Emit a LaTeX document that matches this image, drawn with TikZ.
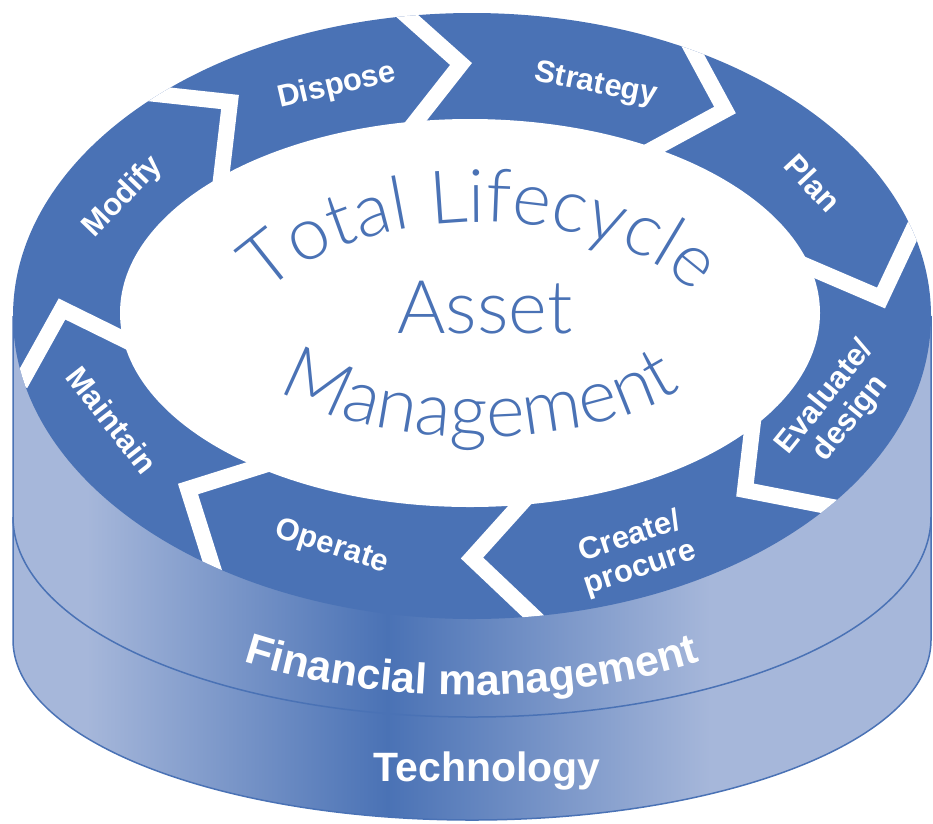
\documentclass[tikz,border=0pt]{standalone}
\usepackage{fontspec}
\usepackage{tikz}
\usetikzlibrary{decorations.text, positioning, calc}

\newfontfamily\thinfont{Lato Light}
\newfontfamily\labelfont{Liberation Sans}

\definecolor{ringblue}{RGB}{74,114,181}
\definecolor{sidelight}{RGB}{166,183,218}

% light - dark - light across the cylinder wall
\pgfdeclarehorizontalshading{sideshade}{100bp}{color(0bp)=(sidelight); color(29bp)=(sidelight); color(45.4bp)=(ringblue); color(63bp)=(sidelight); color(100bp)=(sidelight)}

\begin{document}
\begin{tikzpicture}[x=1pt, y=1pt,
    gap/.style={white, line width=16pt, shorten <=-14pt, shorten >=-14pt},
    stagelabel/.style={text=white, font=\labelfont\bfseries\fontsize{31}{33}\selectfont, align=center},
    bandlabel/.style={text=white, font=\labelfont\bfseries\fontsize{41}{41}\selectfont}]
    \useasboundingbox (0,-823) rectangle (933,0);

    % Define centers
    \coordinate (top) at (472,-316);
    \coordinate (hole) at (470,-313);

    % Cylinder wall
    \path[shading=sideshade] (13,-316) -- (13,-640) arc[start angle=180, end angle=360, x radius=459, y radius=180] -- (931,-316) -- cycle;
    \draw[ringblue, line width=1.5pt] (13,-316) -- (13,-640) arc[start angle=180, end angle=360, x radius=459, y radius=180] -- (931,-316);
    \draw[ringblue, line width=1.5pt] (13,-517) arc[start angle=180, end angle=360, x radius=459, y radius=200];

    % Top ring with the white centre
    \fill[ringblue] (top) ellipse [x radius=459, y radius=303];
    \fill[white] (hole) ellipse [x radius=350, y radius=194];

    % White gaps between the stages
    \begin{scope}
      \clip (top) ellipse [x radius=459, y radius=303];
      \draw[gap] (405,-14) -- (461,-64) -- (413,-125);
      \draw[gap] (692,-49) -- (725,-110) -- (655,-148);
      \draw[gap] (912,-232) -- (881,-298) -- (811,-268);
      \draw[gap] (822,-505) -- (745,-490) -- (752,-430);
      \draw[gap] (530,-613) -- (472,-558) -- (517,-508);
      \draw[gap] (212,-565) -- (188,-489) -- (258,-467);
      \draw[gap] (27,-372) -- (62,-309) -- (125,-340);
      \draw[gap] (156,-94) -- (230,-102) -- (221,-179);
    \end{scope}

    % Stages
    \node[stagelabel, rotate=13] (dispose) at (337,-86) {Dispose};
    \node[stagelabel, rotate=-11] (strategy) at (596,-85) {Strategy};
    \node[stagelabel, rotate=-47] (plan) at (813,-183) {Plan};
    \node[stagelabel, rotate=51] (evaluate) at (838,-408) {Evaluate/\\design};
    \node[stagelabel, rotate=18] (create) at (635,-553) {Create/\\procure};
    \node[stagelabel, rotate=-18] (operate) at (332,-547) {Operate};
    \node[stagelabel, rotate=-52] (maintain) at (112,-420) {Maintain};
    \node[stagelabel, rotate=46] (modify) at (123,-197) {Modify};

    % Title in the middle
    \path[decorate, decoration={text along path, text align=center, text color=ringblue,
        text={|\thinfont\fontsize{74}{74}\selectfont|Total Lifecycle}}]
        (238,-358) arc[start angle=180, end angle=0, x radius=242, y radius=136];
    \node[font=\thinfont\fontsize{74}{74}\selectfont, text=ringblue, anchor=base] (asset) at (485,-333) {Asset};
    \path[decorate, decoration={text along path, text align=center, text color=ringblue,
        text={|\thinfont\fontsize{74}{74}\selectfont|Management}}]
        (238,-329) arc[start angle=180, end angle=360, x radius=242, y radius=108];

    % Bands
    \path[decorate, decoration={text along path, text align=center, text color=white,
        text={|\labelfont\bfseries\fontsize{43}{43}\selectfont|Financial management}}]
        (72,-509) arc[start angle=180, end angle=360, x radius=400, y radius=186];
    \node[bandlabel, anchor=base] (technology) at (487,-781) {Technology};

\end{tikzpicture}
\end{document}
